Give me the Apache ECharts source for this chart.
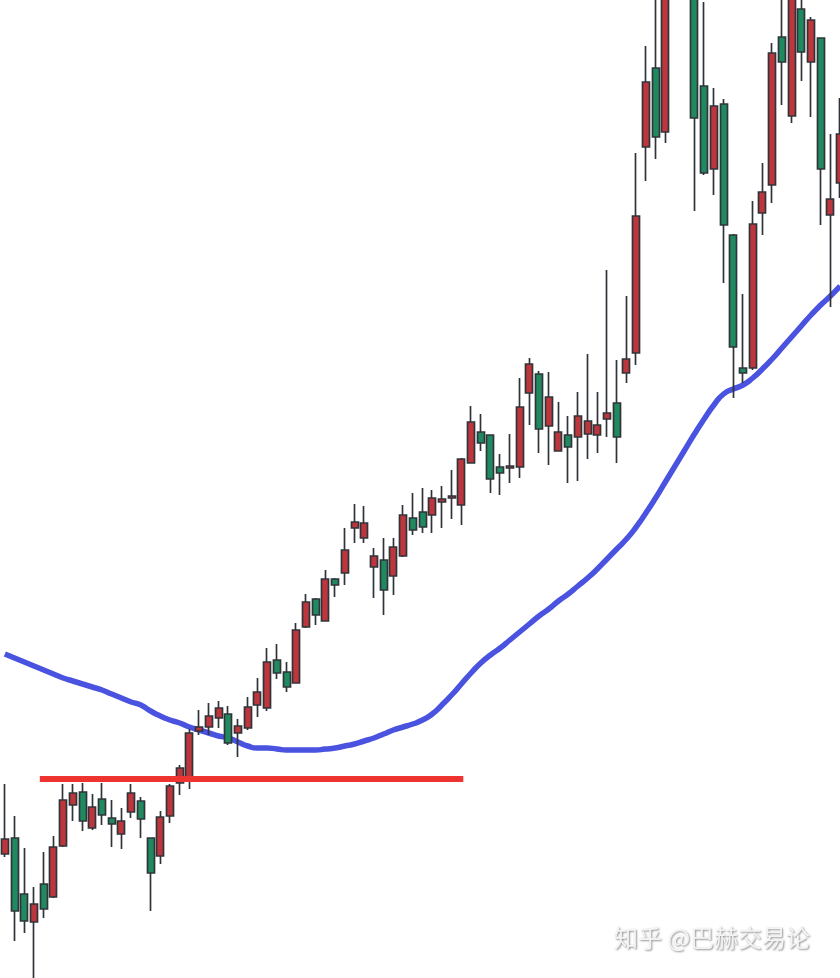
<!DOCTYPE html>
<html>
<head>
<meta charset="utf-8">
<script src="https://cdn.jsdelivr.net/npm/echarts@6/dist/echarts.min.js"></script>
<style>html,body{margin:0;padding:0;background:#fff;}#chart{width:840px;height:978px;}</style>
</head>
<body>
<div id="chart"></div>
<script>
// Candle values (price units)
const opens = [12.4,14.0,8.4,5.6,9.4,8.1,13.2,17.3,18.6,15.0,
17.9,16.0,14.4,16.6,17.7,14.0,12.2,16.2,19.5,19.9,
24.7,25.1,26.0,26.4,24.5,25.0,27.3,27.0,31.8,30.6,
29.5,35.1,37.9,35.7,39.9,40.5,45.0,44.0,41.1,41.8,
40.2,42.2,46.0,46.6,46.3,47.6,48.0,47.3,51.5,54.6,
54.3,51.1,51.0,51.1,58.5,60.4,55.2,52.7,54.3,54.1,
54.4,54.3,55.9,57.5,60.5,62.5,83.1,91.0,84.6,100.0,
104.0,101.0,89.2,80.9,87.4,74.3,61.0,61.0,76.5,79.3,
94.1,86.2,96.9,91.6,94.0,76.3,79.5];
const closes = [13.9,6.7,5.7,7.4,6.9,13.1,17.8,18.5,15.7,17.1,
16.3,15.4,15.7,18.5,15.9,10.5,16.1,19.2,21.0,24.5,
25.1,26.2,27.0,23.5,25.2,27.1,28.6,31.6,30.5,29.1,
34.8,37.6,36.3,39.9,39.3,42.8,45.6,45.5,42.2,38.8,
43.1,46.3,44.8,45.1,48.0,47.9,48.2,51.9,55.6,53.5,
49.9,50.5,51.2,57.1,61.4,54.9,58.1,54.6,53.1,56.2,
55.7,55.3,56.5,54.1,61.9,76.2,89.6,84.1,99.8,104.0,
102.0,86.0,80.5,87.2,75.3,63.1,60.5,75.4,78.6,92.5,
91.6,100.5,92.6,95.8,80.9,77.9,84.4];
const lows = [12.1,3.7,4.5,-0.3,6.0,8.0,13.1,15.7,14.7,14.8,
15.3,13.1,12.9,16.0,14.0,6.7,11.4,15.5,18.3,18.9,
24.3,24.3,25.0,23.3,22.1,24.8,26.1,26.7,29.9,28.6,
29.5,35.0,35.3,35.7,38.1,39.3,43.5,43.5,38.0,36.3,
38.3,42.1,44.3,44.5,44.5,45.0,45.9,45.3,51.5,52.7,
48.5,48.3,49.5,50.0,55.3,52.5,51.3,52.7,49.5,49.7,
51.9,52.5,54.1,51.5,59.5,61.3,79.7,81.9,83.5,98.5,
98.5,76.7,80.3,78.3,69.5,58.0,59.5,60.8,74.3,77.5,
87.3,85.5,89.7,86.1,75.3,67.1,78.0];
const highs = [19.4,16.2,13.0,9.1,12.6,14.2,19.4,19.4,19.5,18.4,
19.5,17.8,17.0,19.4,18.1,14.0,16.7,19.4,21.3,24.9,
26.8,27.5,27.7,27.2,25.9,28.1,30.0,33.0,33.4,31.6,
35.5,38.4,38.0,40.8,40.0,45.0,47.4,47.2,43.0,44.0,
44.0,47.3,48.5,49.0,48.8,49.2,50.8,52.0,57.2,56.4,
54.3,52.4,54.4,60.0,62.0,60.7,60.6,57.6,56.2,58.6,
62.4,58.6,70.8,61.8,68.2,82.5,93.2,100.8,103.0,106.0,
107.0,103.0,97.6,89.0,87.9,74.4,68.4,77.7,81.5,93.5,
99.5,102.0,99.5,96.1,94.0,84.4,88.0];
// Moving average, read at each candle
const maValues = [32.4,32.0,31.6,31.2,30.8,30.4,30.0,29.7,29.4,29.1,
28.8,28.4,28.0,27.6,27.3,26.7,26.2,25.8,25.5,25.1,
24.8,24.5,24.2,24.0,23.6,23.2,23.0,23.0,22.9,22.8,
22.8,22.8,22.8,22.9,23.0,23.2,23.4,23.7,24.0,24.4,
24.8,25.1,25.4,25.8,26.4,27.3,28.3,29.4,30.5,31.5,
32.3,33.0,33.8,34.6,35.4,36.2,36.9,37.7,38.4,39.2,
40.0,40.9,41.9,42.9,43.9,45.1,46.5,48.0,49.6,51.2,
52.8,54.4,55.9,57.3,58.4,58.9,59.3,60.0,60.9,61.9,
63.0,64.1,65.2,66.3,67.3,68.2,69.2];
// Horizontal resistance level and its span (in bar units)
const levelValue = 19.9;
const levelSpan = [4.1, 47.7];
const categories = opens.map((_, i) => 'D' + (i + 1));

const candleData = opens.map((o, i) => [o, closes[i], lows[i], highs[i]]);

const chart = echarts.init(document.getElementById('chart'));
chart.setOption({
  backgroundColor: '#ffffff',
  animation: false,
  grid: { left: 0, top: 0, right: -5, bottom: 0, containLabel: false, outerBoundsMode: 'none' },
  xAxis: [
    { type: 'category', data: categories, boundaryGap: true, show: false },
    { type: 'value', min: 0, max: categories.length, show: false }
  ],
  yAxis: { type: 'value', min: 0, max: 97.8, show: false, splitLine: { show: false } },
  series: [
    {
      type: 'line', data: maValues, xAxisIndex: 0, smooth: 0.6, symbol: 'none', z: 1,
      lineStyle: { color: '#4a52e0', width: 5.5 }
    },
    {
      type: 'candlestick', data: candleData, xAxisIndex: 0, barWidth: 7.5, clip: true, z: 3,
      itemStyle: {
        color: '#bd363d', color0: '#1f8a60',
        borderColor: '#30343a', borderColor0: '#30343a', borderWidth: 1.7
      }
    },
    {
      type: 'line', xAxisIndex: 1, symbol: 'none', z: 4,
      data: [[levelSpan[0], levelValue], [levelSpan[1], levelValue]],
      lineStyle: { color: '#ee3431', width: 6, cap: 'butt' }
    }
  ],
  graphic: [{
    type: 'text', left: 614, top: 926, z: 100,
    style: {
      text: '知乎 @巴赫交易论', fill: '#f4f4f4',
      font: '24px "Noto Sans CJK SC"',
      textShadowColor: 'rgba(0,0,0,0.45)', textShadowBlur: 2, textShadowOffsetX: 1, textShadowOffsetY: 1
    }
  }]
});
</script>
</body>
</html>
